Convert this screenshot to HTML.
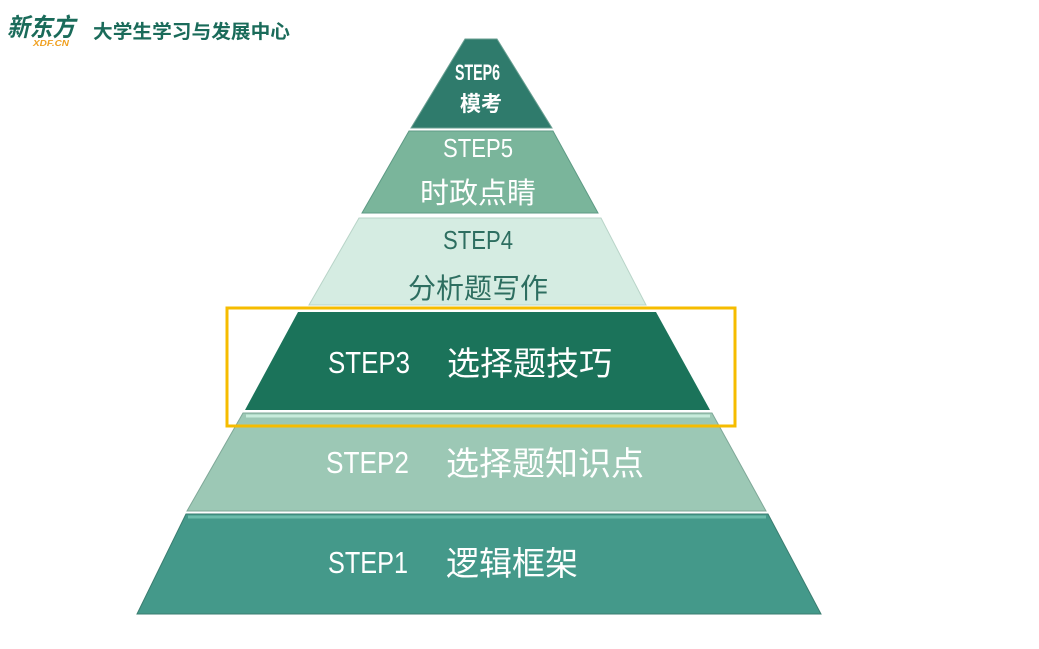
<!DOCTYPE html>
<html><head><meta charset="utf-8">
<style>
html,body{margin:0;padding:0;background:#fff;}
body{width:1039px;height:644px;overflow:hidden;font-family:"Liberation Sans","Noto Sans CJK SC",sans-serif;}
</style></head><body>
<svg width="1039" height="644" viewBox="0 0 1039 644" xmlns="http://www.w3.org/2000/svg" style="font-family:'Liberation Sans','Noto Sans CJK SC',sans-serif">
<!-- logo -->
<text x="7" y="36" font-size="25" font-weight="bold" fill="#1a6b5a" font-style="italic" textLength="68" lengthAdjust="spacingAndGlyphs">新东方</text>
<text x="33" y="46" font-size="8" font-weight="bold" fill="#f0a020" font-style="italic" textLength="36" lengthAdjust="spacingAndGlyphs">XDF.CN</text>
<text x="93" y="38" font-size="19" font-weight="bold" fill="#1a6b5a" textLength="197" lengthAdjust="spacingAndGlyphs">大学生学习与发展中心</text>

<!-- layers -->
<polygon points="465,39 497,39 552,128 411,128" fill="#2f7b6c" stroke="#6a9f92" stroke-width="1"/>
<polygon points="409,131 553,131 598,213 362,213" fill="#7ab59b" stroke="#5d9a84" stroke-width="1"/>
<polygon points="359,218 601,218 646,305 309,305" fill="#d5ece2" stroke="#b8d4c8" stroke-width="1"/>
<polygon points="298,312 656,312 710,410 245,410" fill="#1b735a"/>
<polygon points="243,413 712,413 766,511 187,511" fill="#9cc8b5" stroke="#7fa898" stroke-width="1"/>
<line x1="246" y1="416" x2="710" y2="416" stroke="#c8ecdc" stroke-width="3"/>
<polygon points="186,514 768,514 821,614 137,614" fill="#44998a" stroke="#3a7d70" stroke-width="1"/>
<line x1="188" y1="517" x2="766" y2="517" stroke="#6cbcab" stroke-width="3"/>

<!-- highlight box -->
<rect x="227" y="308" width="508" height="118" fill="none" stroke="#f6bc00" stroke-width="3"/>

<!-- text -->
<text x="455" y="80" font-size="22" font-weight="bold" fill="#fff" textLength="45" lengthAdjust="spacingAndGlyphs">STEP6</text>
<text x="460" y="111" font-size="21" font-weight="bold" fill="#fff">模考</text>
<text x="443" y="157" font-size="26" fill="#fff" textLength="70" lengthAdjust="spacingAndGlyphs">STEP5</text>
<text x="420" y="203" font-size="29" fill="#fff">时政点睛</text>
<text x="443" y="249" font-size="26" fill="#2d6e60" textLength="70" lengthAdjust="spacingAndGlyphs">STEP4</text>
<text x="408" y="298" font-size="28" fill="#2d6e60">分析题写作</text>

<text x="328" y="373" font-size="31" fill="#fff" textLength="82" lengthAdjust="spacingAndGlyphs">STEP3</text>
<text x="447" y="375" font-size="33" fill="#fff">选择题技巧</text>
<text x="326" y="473" font-size="31" fill="#fff" textLength="83" lengthAdjust="spacingAndGlyphs">STEP2</text>
<text x="446" y="475" font-size="33" fill="#fff">选择题知识点</text>
<text x="328" y="573" font-size="31" fill="#fff" textLength="80" lengthAdjust="spacingAndGlyphs">STEP1</text>
<text x="446" y="575" font-size="33" fill="#fff">逻辑框架</text>
</svg>
</body></html>
